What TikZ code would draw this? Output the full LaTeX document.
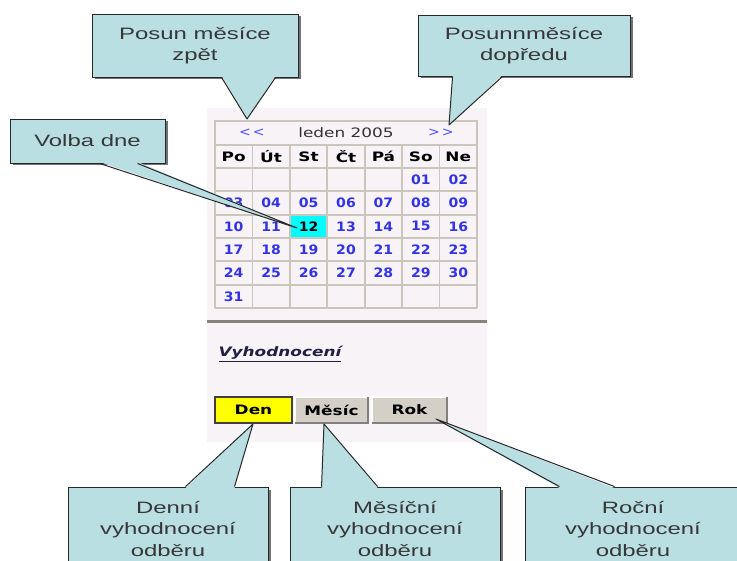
\documentclass[tikz,border=0pt]{standalone}
\usepackage{fontspec}
\usetikzlibrary{calc,shadows}
\newfontfamily\callfont[FakeStretch=1.45]{Liberation Sans}
\newfontfamily\calfont[FakeStretch=1.08]{DejaVu Sans}
\newfontfamily\calwide[FakeStretch=1.3]{DejaVu Sans}
\definecolor{callfill}{RGB}{186,223,226}
\definecolor{callline}{RGB}{40,40,40}
\definecolor{calltext}{RGB}{55,55,55}
\definecolor{panelbg}{RGB}{247,243,247}
\definecolor{gridgrey}{RGB}{202,198,189}
\definecolor{sepgrey}{RGB}{135,131,119}
\definecolor{dayblue}{RGB}{51,51,230}
\definecolor{navblue}{RGB}{80,80,255}
\definecolor{btngrey}{RGB}{212,208,200}
\definecolor{btndark}{RGB}{128,128,128}
\definecolor{vyhcol}{RGB}{32,32,70}
\definecolor{todaycyan}{RGB}{0,255,255}
\definecolor{denyellow}{RGB}{255,255,0}
\begin{document}
\begin{tikzpicture}[
    x=1pt, y=-1pt,
    every node/.style={inner sep=0pt, align=center},
    callout/.style={rectangle, fill=callfill, draw=callline, line width=0.9pt, text=calltext,
        font=\callfont\fontsize{16.5}{21.5}\selectfont,
        drop shadow={shadow xshift=2.5pt, shadow yshift=-2.5pt, fill=black!55, opacity=1}},
    beak line/.style={draw=callline, line width=1pt, line join=round},
    panel/.style={rectangle, fill=panelbg, minimum width=280pt, minimum height=334pt},
    gridline/.style={draw=gridgrey, line width=1.8pt},
    sepline/.style={draw=sepgrey, line width=3pt},
    head/.style={font=\calwide\bfseries\fontsize{13}{15}\selectfont},
    day/.style={font=\calfont\bfseries\fontsize{13}{15}\selectfont, text=dayblue},
    today/.style={day, text=black, fill=todaycyan, minimum width=35pt, minimum height=21pt},
    nav/.style={font=\calfont\fontsize{13}{15}\selectfont, text=navblue},
    button/.style={font=\calwide\bfseries\fontsize{13}{15}\selectfont, minimum height=26pt},
    ]
\path[use as bounding box, fill=white] (0,0) rectangle (737,561);
\clip (0,0) rectangle (737,561);
\node[panel] (panel) at (347,275) {};
\draw[gridline] (215,145) -- (215,121) -- (477,121) -- (477,145);
\foreach \c in {0,...,7}
    \draw[gridline] ({215+37.43*\c},145) -- ({215+37.43*\c},308);
\draw[gridline] (215,145) -- (477,145);
\foreach \r in {0,...,6}
    \draw[gridline] (215,{168+23.33*\r}) -- (477,{168+23.33*\r});
\node[nav] (prev) at (252,133) {<\hspace{2pt}<};
\node[head, font=\calwide\fontsize{13}{15}\selectfont, text=black!80] (month) at (346,133) {leden 2005};
\node[nav] (next) at (441,133) {>\hspace{2pt}>};
\foreach \d [count=\i from 0] in {Po,Út,St,Čt,Pá,So,Ne}
    \node[head] (h\i) at ({215+37.43*(\i+0.5)},156.5) {\d};
\foreach \n in {1,...,31} {
    \pgfmathtruncatemacro\drow{div(\n+4,7)}
    \pgfmathtruncatemacro\dcol{mod(\n+4,7)}
    \ifnum\n=12 \def\dstyle{today}\else\def\dstyle{day}\fi
    \node[\dstyle] (d\n) at ({215+37.43*(\dcol+0.5)},{168+23.33*(\drow+0.5)}) {\ifnum\n<10 0\fi\n};
}
\draw[sepline] ($(panel.north west)+(0,214)$) -- ($(panel.north east)+(0,214)$);
\node[font=\calwide\bfseries\itshape\fontsize{13}{15}\selectfont, text=vyhcol] (vyh) at (280,354) {\underline{Vyhodnocení}};
\node[button, fill=denyellow, draw=black!75, line width=1.8pt, minimum width=77pt] (den) at (253.5,410) {Den};
\node[button, fill=btngrey, minimum width=73pt] (mesic) at (331.5,410) {Měsíc};
\node[button, fill=btngrey, minimum width=75pt] (rok) at (409.5,410) {Rok};
\foreach \b in {mesic,rok} {
    \draw[white, line width=1.5pt] (\b.south west) -- (\b.north west) -- (\b.north east);
    \draw[btndark, line width=1.5pt] (\b.north east) -- (\b.south east) -- (\b.south west);
}
\node[callout, minimum width=206pt, minimum height=63pt] (zpet) at (195,45.5) {Posun měsíce\\zpět};
\node[callout, minimum width=212pt, minimum height=61pt] (dopredu) at (524,45.5) {Posunnměsíce\\dopředu};
\node[callout, minimum width=155pt, minimum height=44pt] (volba) at (87.5,141) {Volba dne};
\node[callout, minimum width=200pt, minimum height=84pt] (denni) at (168,529) {Denní\\vyhodnocení\\odběru};
\node[callout, minimum width=210pt, minimum height=84pt] (mesicni) at (395,529) {Měsíční\\vyhodnocení\\odběru};
\node[callout, minimum width=216pt, minimum height=84pt] (rocni) at (633,529) {Roční\\vyhodnocení\\odběru};
\coordinate (zpetTip) at (247,119);
\coordinate (dopreduTip) at (449,125);
\coordinate (volbaTip) at (297,228);
\coordinate (denniTip) at (253,424);
\coordinate (mesicniTip) at (324,424);
\coordinate (rocniTip) at (436,419);
\foreach \co/\a/\b in {zpet/130/184, dopredu/35/85, volba/90/128} {
    \fill[callfill] ($(\co.south west)+(\a,-1.5)$) -- (\co Tip) -- ($(\co.south west)+(\b,-1.5)$) -- cycle;
    \draw[beak line] ($(\co.south west)+(\a,0)$) -- (\co Tip) -- ($(\co.south west)+(\b,0)$);
}
\foreach \co/\a/\b in {denni/118/167, mesicni/32/88, rocni/35/90} {
    \fill[callfill] ($(\co.north west)+(\a,1.5)$) -- (\co Tip) -- ($(\co.north west)+(\b,1.5)$) -- cycle;
    \draw[beak line] ($(\co.north west)+(\a,0)$) -- (\co Tip) -- ($(\co.north west)+(\b,0)$);
}
\end{tikzpicture}
\end{document}
